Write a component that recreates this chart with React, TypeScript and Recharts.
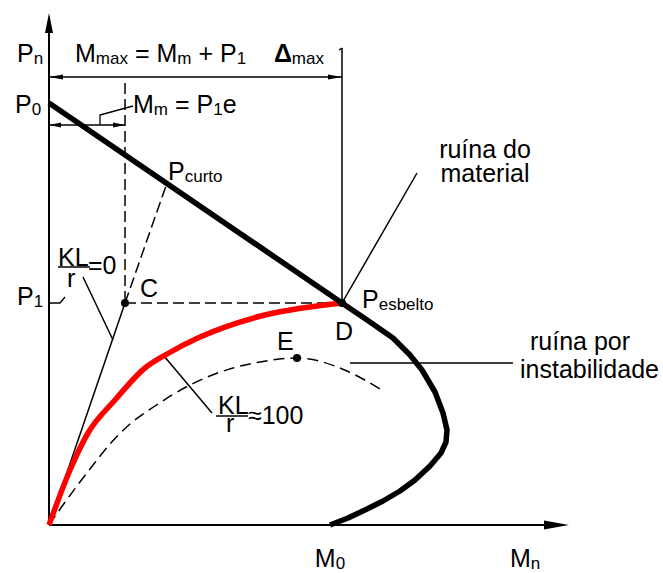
import React from 'react';
import { LineChart, Line, XAxis, YAxis, ReferenceDot } from 'recharts';

const W = 663;
const H = 573;
const FONT = '"Liberation Sans", Arial, Helvetica, sans-serif';

// key values of the interaction diagram (plot units: M across, P up)
const P0 = 105.5; // pure compression
const P1 = 55.5; // applied axial load
const M_C = 19; // first-order moment P1·e (point C)
const M_D = 73.25; // total moment at D
const M0 = 70.25; // pure bending
const M_E = 62;
const P_E = 41.75;

const loadTicks = [P0, P1];
const loadTickSubs = ['0', '1'];
const momentTicks = [M0];
const momentTickSubs = ['0'];

// failure envelope of the section: straight branch P0 -> D, then the curved branch down to M0
const materialFailure = [
  { m: 0, p: 105.5 },
  { m: 73.25, p: 55.5 },
  { m: 80.25, p: 50.75 },
  { m: 86, p: 46.75 },
  { m: 90.25, p: 42.5 },
  { m: 93.25, p: 38.75 },
  { m: 96.5, p: 33.25 },
  { m: 98.5, p: 28 },
  { m: 99.5, p: 23.75 },
  { m: 99.25, p: 20.75 },
  { m: 98, p: 18 },
  { m: 95.25, p: 14.75 },
  { m: 91.5, p: 11.25 },
  { m: 87.75, p: 8.5 },
  { m: 83.5, p: 6 },
  { m: 79.5, p: 4 },
  { m: 74.75, p: 1.75 },
  { m: 70.25, p: 0 },
];

// load path of the slender column, KL/r ≈ 100
const slenderPath = [
  { m: 0, p: 0 },
  { m: 5.25, p: 13.75 },
  { m: 9.75, p: 23 },
  { m: 16.5, p: 31.25 },
  { m: 24, p: 39.25 },
  { m: 29.5, p: 42.75 },
  { m: 37.75, p: 47 },
  { m: 52, p: 52 },
  { m: 71, p: 55.25 },
  { m: 73.25, p: 55.5 },
];

// path ending in instability (peak at E)
const instabilityPath = [
  { m: 0, p: 0 },
  { m: 3.5, p: 5 },
  { m: 10.25, p: 14 },
  { m: 15.25, p: 20.25 },
  { m: 20.25, p: 25.25 },
  { m: 26.5, p: 29.75 },
  { m: 35.25, p: 35 },
  { m: 46, p: 39.25 },
  { m: 52.75, p: 40.75 },
  { m: 62, p: 41.75 },
  { m: 74.5, p: 38.5 },
  { m: 82.75, p: 34 },
];

// short column, KL/r = 0
const shortColumnPath = [{ m: 0, p: 0 }, { m: M_C, p: P1 }];
const shortColumnRay = [{ m: M_C, p: P1 }, { m: 29.5, p: 85.5 }];

// construction and leader lines
const yAxisLine = [{ m: 0, p: 0 }, { m: 0, p: 124 }];
const xAxisLine = [{ m: 0, p: 0 }, { m: 126, p: 0 }];
const eccDrop = [{ m: M_C, p: 110.5 }, { m: M_C, p: P1 }];
const loadLevel = [{ m: M_C, p: P1 }, { m: M_D, p: P1 }];
const maxMomentDrop = [{ m: M_D, p: 119.25 }, { m: M_D, p: P1 }];
const maxMomentTop = [{ m: M_D, p: 119.25 }, { m: 72.5, p: 118.75 }];
const maxMomentDim = [{ m: 0, p: 112 }, { m: M_D, p: 112 }];
const eccDim = [{ m: 0, p: 100 }, { m: M_C, p: 100 }];
const eccLeader = [{ m: 12.75, p: 100 }, { m: 12.75, p: 102.5 }, { m: 21, p: 104.75 }];
const p1Hook = [{ m: 0, p: P1 }, { m: 2.75, p: P1 }, { m: 4, p: 57 }];
const kl0Leader = [{ m: 8.5, p: 62 }, { m: 16, p: 46.25 }];
const kl0Bar = [{ m: 2.25, p: 64.5 }, { m: 10.25, p: 64.5 }];
const kl100Leader = [{ m: 28.75, p: 42.25 }, { m: 40.75, p: 28 }];
const kl100Bar = [{ m: 41.75, p: 27.25 }, { m: 49.75, p: 27.25 }];
const materialLeader = [{ m: M_D, p: P1 }, { m: 92, p: 88 }];
const instabilityLeader = [{ m: 75.25, p: 40.5 }, { m: 116, p: 40.5 }];

type Pt = { m: number; p: number };

function seg(
  key: string,
  data: Pt[],
  width = 1.5,
  dash?: string,
  color = '#000',
  curve: 'linear' | 'monotone' = 'linear'
) {
  return (
    <Line
      key={key}
      data={data}
      dataKey="p"
      type={curve}
      stroke={color}
      strokeWidth={width}
      strokeDasharray={dash}
      strokeLinejoin="round"
      dot={false}
      activeDot={false}
      legendType="none"
      isAnimationActive={false}
    />
  );
}

function arrow(key: string, m: number, p: number, dir: 'up' | 'left' | 'right', len: number, half: number) {
  return (
    <ReferenceDot
      key={key}
      x={m}
      y={p}
      r={0}
      ifOverflow="visible"
      shape={(d: any) => {
        const { cx, cy } = d;
        let pts = '';
        if (dir === 'up') pts = `${cx},${cy} ${cx - half},${cy + len} ${cx + half},${cy + len}`;
        if (dir === 'right') pts = `${cx},${cy} ${cx - len},${cy - half} ${cx - len},${cy + half}`;
        if (dir === 'left') pts = `${cx},${cy} ${cx + len},${cy - half} ${cx + len},${cy + half}`;
        return <polygon points={pts} fill="#000" />;
      }}
    />
  );
}

function note(key: string, m: number, p: number, content: React.ReactNode, anchor: 'start' | 'middle' | 'end' = 'start') {
  return (
    <ReferenceDot
      key={key}
      x={m}
      y={p}
      r={0}
      ifOverflow="visible"
      shape={(d: any) => (
        <text
          x={d.cx}
          y={d.cy}
          textAnchor={anchor}
          fontFamily={FONT}
          fontSize={25}
          fill="#000"
          style={{ whiteSpace: 'pre' }}
        >
          {content}
        </text>
      )}
    />
  );
}

const sub = (s: string) => (
  <tspan fontSize={17} dy={2}>
    {s}
  </tspan>
);
const back = (s: string) => <tspan dy={-2}>{s}</tspan>;

function dot(key: string, m: number, p: number) {
  return <ReferenceDot key={key} x={m} y={p} r={4} fill="#000" stroke="none" ifOverflow="visible" />;
}

export default function App() {
  return (
    <div style={{ position: 'absolute', left: 0, top: 0, width: W, height: H, background: '#fff' }}>
      <LineChart width={W} height={H} margin={{ top: 13, right: 94, bottom: 48, left: 49 }}>
        <XAxis type="number" dataKey="m" domain={[0, 130]} hide />
        <YAxis type="number" dataKey="p" domain={[0, 128]} hide />

        {seg('yaxis', yAxisLine, 2)}
        {seg('xaxis', xAxisLine, 2)}
        {seg('eccDrop', eccDrop, 1.5, '11 5')}
        {seg('loadLevel', loadLevel, 1.5, '11 5')}
        {seg('shortRay', shortColumnRay, 1.5, '11 5')}
        {seg('instab', instabilityPath, 1.5, '11 6', '#000', 'monotone')}
        {seg('maxDrop', maxMomentDrop, 1.5)}
        {seg('maxTop', maxMomentTop, 1.5)}
        {seg('maxDim', maxMomentDim, 1.5)}
        {seg('eccDim', eccDim, 1.5)}
        {seg('eccLeader', eccLeader, 1.3)}
        {seg('p1Hook', p1Hook, 1.3)}
        {seg('shortPath', shortColumnPath, 1.5)}
        {seg('kl0Leader', kl0Leader, 1.5)}
        {seg('kl0Bar', kl0Bar, 1.5)}
        {seg('kl100Leader', kl100Leader, 1.5)}
        {seg('kl100Bar', kl100Bar, 1.5)}
        {seg('matLeader', materialLeader, 1.5)}
        {seg('instLeader', instabilityLeader, 1.5)}
        {seg('slender', slenderPath, 5.5, undefined, '#ff0000', 'monotone')}
        {seg('material', materialFailure, 5.5)}

        {arrow('yTip', 0, 128, 'up', 20, 4)}
        {arrow('xTip', 130, 0, 'right', 25, 4.5)}
        {arrow('maxL', 0, 112, 'left', 14, 2.5)}
        {arrow('maxR', M_D, 112, 'right', 14, 2.5)}
        {arrow('eccL', 0, 100, 'left', 12, 2.5)}
        {arrow('eccR', M_C, 100, 'right', 12, 2.5)}

        {dot('C', M_C, P1)}
        {dot('D', M_D, P1)}
        {dot('E', M_E, P_E)}

        {note('Pn', -8, 115.75, <>P{sub('n')}</>)}
        {note(
          'title',
          6.5,
          115.75,
          <>
            M{sub('max')}
            {back(' = M')}
            {sub('m')}
            {back(' + P')}
            {sub('1')}
            {back('    ')}
            <tspan fontWeight="bold">Δ</tspan>
            {sub('max')}
          </>
        )}
        {note('P0', -8.5, loadTicks[0] - 2.5, <>P{sub(loadTickSubs[0])}</>)}
        {note('P1', -8, loadTicks[1] - 0.5, <>P{sub(loadTickSubs[1])}</>)}
        {note('M0', momentTicks[0], -10.5, <>M{sub(momentTickSubs[0])}</>, 'middle')}
        {note('Mn', 115.25, -10.5, <>M{sub('n')}</>)}
        {note(
          'Mm',
          21,
          103,
          <>
            M{sub('m')}
            {back(' = P')}
            {sub('1')}
            {back('e')}
          </>
        )}
        {note('Pcurto', 29.75, 86.25, <>P{sub('curto')}</>)}
        {note('KL0', 2.25, 64.75, 'KL')}
        {note('r0', 4.5, 59.5, 'r')}
        {note('eq0', 9.75, 62.75, '=0')}
        {note('C-label', 22.75, 57, 'C')}
        {note('Pesb', 78.25, 54.25, <>P{sub('esbelto')}</>)}
        {note('D-label', 71.5, 46.25, 'D')}
        {note('E-label', 57, 43.75, 'E')}
        {note('mat1', 109, 91.75, 'ruína do', 'middle')}
        {note('mat2', 109, 85.75, 'material', 'middle')}
        {note('inst1', 120.25, 43.75, 'ruína por')}
        {note('inst2', 117.75, 36.75, 'instabilidade')}
        {note('KL100', 42.25, 27.75, 'KL')}
        {note('r100', 44.25, 23.25, 'r')}
        {note('eq100', 49.75, 25.25, '≈100')}
      </LineChart>
    </div>
  );
}
